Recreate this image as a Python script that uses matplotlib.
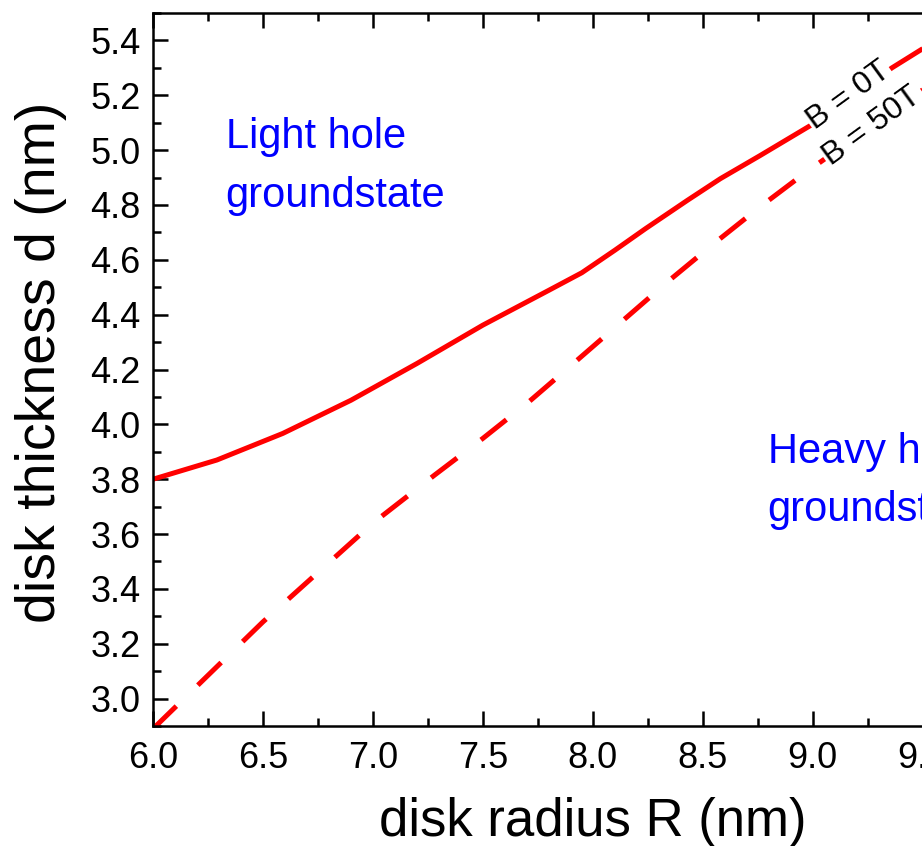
import matplotlib
matplotlib.use("Agg")
import matplotlib.pyplot as plt
from matplotlib.ticker import MultipleLocator

# values
radius = [6.0, 6.29, 6.59, 6.9, 7.2, 7.5, 7.8, 7.95, 8.1, 8.24, 8.43, 8.58, 8.76, 8.99, 9.36, 9.5]
d_0T = [3.80, 3.87, 3.967, 4.088, 4.222, 4.362, 4.489, 4.553, 4.635, 4.714, 4.817, 4.896, 4.98, 5.09, 5.30, 5.37]
radius_50T = [6.0, 6.5, 7.0, 7.28, 7.5, 7.71, 7.92, 8.34, 8.55, 8.76, 8.97, 9.5]
d_50T = [2.89, 3.28, 3.64, 3.815, 3.949, 4.083, 4.228, 4.52, 4.659, 4.793, 4.92, 5.22]

plt.rcParams['font.family'] = ['Liberation Sans', 'DejaVu Sans']

fig = plt.figure(figsize=(9.22, 8.46), dpi=100)
# axes runs past the right edge, like the cropped original
ax = fig.add_axes([0.166, 0.1418, 0.954, 0.8428])

ax.plot(radius, d_0T, color='red', lw=3.6, solid_capstyle='butt', solid_joinstyle='round')
ax.plot(radius_50T, d_50T, color='red', lw=3.6, dashes=(6.5, 6), dash_capstyle='butt')

ax.set_xlim(6.0, 10.0)
ax.set_ylim(2.9, 5.5)
ax.xaxis.set_major_locator(MultipleLocator(0.5))
ax.xaxis.set_minor_locator(MultipleLocator(0.25))
ax.yaxis.set_major_locator(MultipleLocator(0.2))
ax.yaxis.set_minor_locator(MultipleLocator(0.1))
ax.xaxis.set_major_formatter(lambda v, p: f"{v:.1f}")
ax.yaxis.set_major_formatter(lambda v, p: f"{v:.1f}")

for s in ax.spines.values():
    s.set_linewidth(1.8)
ax.tick_params(which='both', direction='in', top=True, right=True, width=1.8)
ax.tick_params(which='major', length=11, labelsize=26)
ax.tick_params(axis='x', which='major', pad=11)
ax.tick_params(axis='y', which='major', pad=9)
ax.tick_params(which='minor', length=6)

ax.set_xlabel("disk radius R (nm)", fontsize=38, labelpad=15)
ax.set_ylabel("disk thickness d (nm)", fontsize=40, labelpad=17)
ax.yaxis.label.set_y(0.5105)

ax.text(6.33, 5.12, "Light hole\ngroundstate", color='blue', fontsize=30,
        va='top', ha='left', linespacing=1.6)
ax.text(8.795, 3.973, "Heavy hole\ngroundstate", color='blue', fontsize=30,
        va='top', ha='left', linespacing=1.6)

ax.text(9.164, 5.20, "B = 0T", fontsize=23, rotation=36, rotation_mode='anchor',
        ha='center', va='center',
        bbox=dict(facecolor='white', edgecolor='none', pad=1))
ax.text(9.27, 5.087, "B = 50T", fontsize=23, rotation=36, rotation_mode='anchor',
        ha='center', va='center',
        bbox=dict(facecolor='white', edgecolor='none', pad=1))

fig.savefig("out.png", dpi=100)
